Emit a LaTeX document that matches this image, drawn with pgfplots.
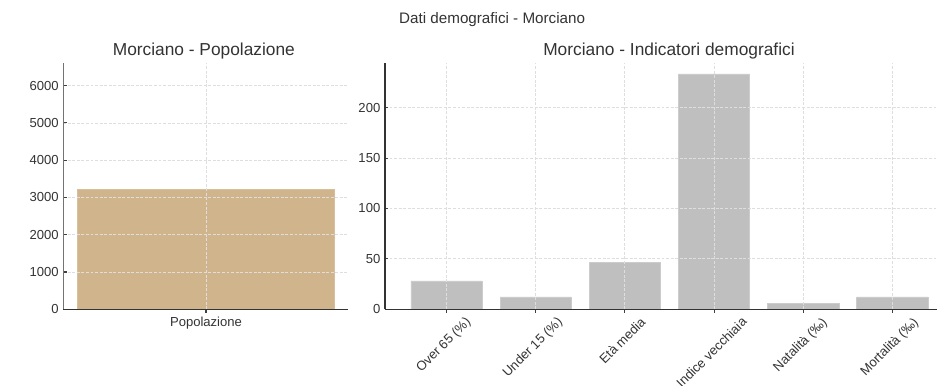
\documentclass[border=0pt]{standalone}
\usepackage{fontspec}
\setmainfont{Liberation Sans}
\usepackage{graphicx}
\usepackage{pgfplots}
\pgfplotsset{compat=1.18}
\definecolor{tanbar}{RGB}{208,180,140}
\definecolor{graybar}{RGB}{191,191,191}
\definecolor{gridc}{RGB}{222,222,222}
\definecolor{txt}{RGB}{51,51,51}
\pgfplotsset{
  common/.style={
    scale only axis,
    axis lines*=left,
    axis line style={black!80, line width=0.9pt},
    ymajorgrids, xmajorgrids,
    grid style={gridc, line width=0.6pt, dash pattern=on 2.2pt off 1.2pt},
    major tick length=2.6pt,
    tick style={black!75, line width=0.8pt},
    tick align=inside,
    ticklabel style={font=\fontsize{9.8}{11}\selectfont, text=txt},
    /pgf/number format/assume math mode=true,
    /pgf/number format/1000 sep={},
    ymin=0,
    axis on top,
    ybar, bar width=0.8, bar shift=0pt,
  }
}
\begin{document}
\begin{tikzpicture}
\useasboundingbox (0,0) rectangle (702.75pt,288.75pt);
\node[anchor=base, font=\fontsize{11.4}{13}\selectfont, text=txt] at (369.1pt,270.75pt) {Dati demografici - Morciano};
\node[anchor=base, font=\fontsize{13}{15}\selectfont, text=txt] at (152.9pt,247pt) {Morciano - Popolazione};
\node[anchor=base, font=\fontsize{13}{15}\selectfont, text=txt] at (501.75pt,247pt) {Morciano - Indicatori demografici};
\begin{axis}[common,
  at={(47.5pt,56.8pt)}, anchor=south west,
  width=213.75pt, height=184.95pt,
  xmin=-0.443, xmax=0.442, ymax=6617,
  xtick={0}, xticklabels={Popolazione},
  ytick={0,1000,2000,3000,4000,5000,6000},
  axis y line*=left, y axis line style={black!55},
]
\addplot[fill=tanbar, draw=tanbar!85!white, line width=0.5pt] coordinates {(0,3220)};
\end{axis}
\begin{axis}[common,
  at={(288.75pt,56.8pt)}, anchor=south west,
  width=414pt, height=184.95pt,
  xmin=-0.69, xmax=5.50, ymax=244.7,
  xtick={0,1,2,3,4,5},
  xticklabels={\rotatebox{45}{Over 65 (\%)},\rotatebox{45}{Under 15 (\%)},\rotatebox{45}{Età media},\rotatebox{45}{Indice vecchiaia},\rotatebox{45}{Natalità (‰)},\rotatebox{45}{Mortalità (‰)}},
  xticklabel style={anchor=north, xshift=-2pt, yshift=1pt},
  ytick={0,50,100,150,200},
]
\addplot[fill=graybar, draw=graybar!80!white, line width=0.5pt] coordinates {(0,28.1) (1,12.2) (2,46.6) (3,233.6) (4,5.6) (5,12.2)};
\end{axis}
\end{tikzpicture}
\end{document}
